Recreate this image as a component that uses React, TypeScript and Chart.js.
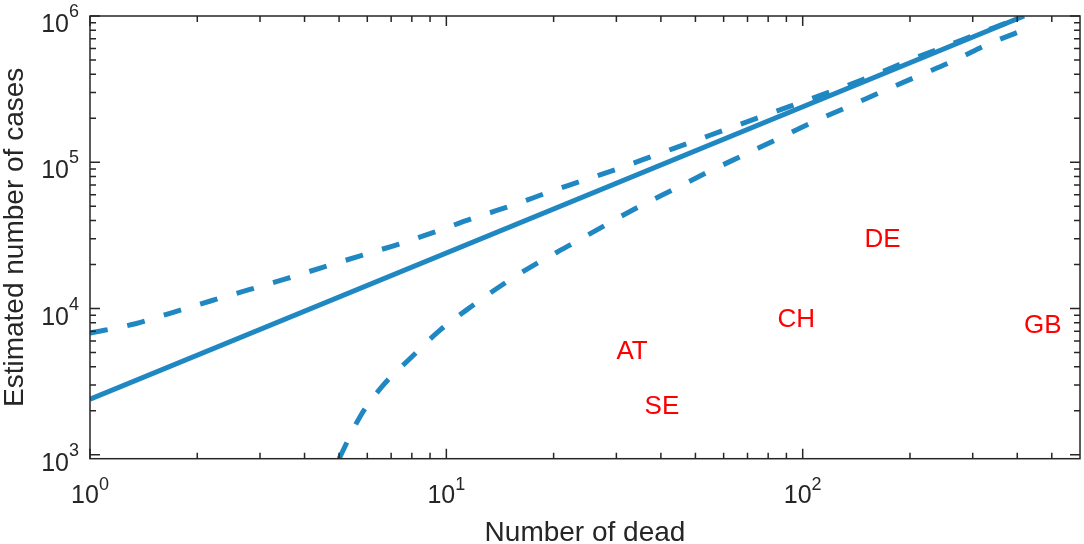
import React, { useEffect, useRef } from "react";
import { Chart, registerables } from "chart.js";

Chart.register(...registerables);

// fitted line (solid)
const deadFit = [1, 418];
const casesFit = [2400, 1000000];

// upper bound (dashed)
const deadUpper = [1, 1.35, 1.73, 2.19, 2.81, 3.56, 4.52, 5.79, 7.33, 9.3, 11.8, 14.9, 18.9, 24, 30.4, 38.5, 48.8, 61.8, 78.4, 99.4, 123, 158, 200, 254, 320, 400, 410];
const casesUpper = [6800, 7900, 9500, 11300, 13500, 16000, 19200, 23100, 27500, 33400, 41200, 49500, 61100, 74500, 90600, 111700, 137700, 169800, 209500, 258000, 311000, 393000, 500000, 625000, 780000, 965000, 1000000];

// lower bound (dashed)
const deadLower = [5.0, 5.72, 6.65, 7.91, 9.6, 11.8, 14.4, 17.9, 22.2, 27.9, 34.6, 43.3, 54.3, 68.1, 85.4, 107, 135, 170, 213, 268, 337, 425, 449];
const casesLower = [940, 1815, 2990, 4550, 7110, 10400, 14600, 20300, 27100, 37100, 49500, 65000, 85900, 111700, 145000, 188600, 241500, 310500, 393000, 500000, 654000, 820000, 877000];

// country labels
const countryCodes = ["AT", "SE", "CH", "DE", "GB"];
const countryDead = [30, 36, 85, 149, 418];
const countryCases = [5200, 2200, 8600, 30500, 7900];

// axes
const xMajorTicks = [1, 10, 100];
const xTickExponents = ["0", "1", "2"];
const xMinorTicks = [2, 3, 4, 5, 6, 7, 8, 9, 20, 30, 40, 50, 60, 70, 80, 90, 200, 300, 400, 500];
const yMajorTicks = [1000, 10000, 100000, 1000000];
const yTickExponents = ["3", "4", "5", "6"];
const yMinorTicks = [
  2000, 3000, 4000, 5000, 6000, 7000, 8000, 9000,
  20000, 30000, 40000, 50000, 60000, 70000, 80000, 90000,
  200000, 300000, 400000, 500000, 600000, 700000, 800000, 900000,
];
const xTitle = "Number of dead";
const yTitle = "Estimated number of cases";

const LINE_BLUE = "#1f87c2";
const AXIS_GREY = "#262626";
const FONT = "'Liberation Sans', Arial, sans-serif";

const toPoints = (xs: number[], ys: number[]) => xs.map((x, i) => ({ x, y: ys[i] }));

const axesPlugin = {
  id: "matlabAxes",
  afterDraw(chart: any) {
    const { ctx, chartArea: a, scales } = chart;
    const xs = scales.x;
    const ys = scales.y;
    ctx.save();

    // box
    ctx.strokeStyle = AXIS_GREY;
    ctx.lineWidth = 1.5;
    ctx.strokeRect(a.left, a.top, a.right - a.left, a.bottom - a.top);

    // inward ticks on all four sides
    ctx.beginPath();
    const xTick = (v: number, len: number) => {
      const p = xs.getPixelForValue(v);
      ctx.moveTo(p, a.bottom);
      ctx.lineTo(p, a.bottom - len);
      ctx.moveTo(p, a.top);
      ctx.lineTo(p, a.top + len);
    };
    const yTick = (v: number, len: number) => {
      const p = ys.getPixelForValue(v);
      ctx.moveTo(a.left, p);
      ctx.lineTo(a.left + len, p);
      ctx.moveTo(a.right, p);
      ctx.lineTo(a.right - len, p);
    };
    xMajorTicks.forEach((v) => xTick(v, 10));
    xMinorTicks.forEach((v) => xTick(v, 6));
    yMajorTicks.forEach((v) => yTick(v, 10));
    yMinorTicks.forEach((v) => yTick(v, 6));
    ctx.stroke();

    // tick labels 10^n
    ctx.fillStyle = AXIS_GREY;
    ctx.textBaseline = "alphabetic";
    ctx.textAlign = "left";
    const baseFont = `25px ${FONT}`;
    const expFont = `18px ${FONT}`;
    xMajorTicks.forEach((v, i) => {
      const p = xs.getPixelForValue(v);
      ctx.font = baseFont;
      const wBase = ctx.measureText("10").width;
      ctx.font = expFont;
      const wExp = ctx.measureText(xTickExponents[i]).width;
      const start = p - (wBase + wExp) / 2;
      ctx.font = baseFont;
      ctx.fillText("10", start, a.bottom + 44);
      ctx.font = expFont;
      ctx.fillText(xTickExponents[i], start + wBase, a.bottom + 31);
    });
    yMajorTicks.forEach((v, i) => {
      const p = ys.getPixelForValue(v);
      const right = a.left - 11;
      ctx.font = expFont;
      const wExp = ctx.measureText(yTickExponents[i]).width;
      ctx.fillText(yTickExponents[i], right - wExp, p + 1);
      ctx.font = baseFont;
      const wBase = ctx.measureText("10").width;
      ctx.fillText("10", right - wExp - wBase, p + 16);
    });

    // axis titles
    ctx.font = `28px ${FONT}`;
    ctx.textAlign = "center";
    ctx.fillText(xTitle, (a.left + a.right) / 2, a.bottom + 82);
    ctx.save();
    ctx.translate(23, (a.top + a.bottom) / 2);
    ctx.rotate(-Math.PI / 2);
    ctx.fillText(yTitle, 0, 0);
    ctx.restore();

    // country labels
    ctx.font = `26px ${FONT}`;
    ctx.fillStyle = "#ff0000";
    ctx.textAlign = "left";
    countryCodes.forEach((code, i) => {
      const px = xs.getPixelForValue(countryDead[i]);
      const py = ys.getPixelForValue(countryCases[i]);
      ctx.fillText(code, px, py + 26 * 0.36);
    });

    ctx.restore();
  },
};

const App = () => {
  const canvasRef = useRef<HTMLCanvasElement | null>(null);
  const chartRef = useRef<Chart | null>(null);

  useEffect(() => {
    document.body.style.margin = "0";
    if (!canvasRef.current) return;
    if (chartRef.current) chartRef.current.destroy();

    const lineStyle = {
      borderColor: LINE_BLUE,
      borderWidth: 5,
      pointRadius: 0,
      fill: false,
      cubicInterpolationMode: "monotone" as const,
    };

    chartRef.current = new Chart(canvasRef.current, {
      type: "line",
      data: {
        datasets: [
          { ...lineStyle, label: "fit", data: toPoints(deadFit, casesFit) },
          { ...lineStyle, label: "upper", data: toPoints(deadUpper, casesUpper), borderDash: [18, 20] },
          { ...lineStyle, label: "lower", data: toPoints(deadLower, casesLower), borderDash: [18, 20] },
        ],
      },
      options: {
        responsive: true,
        maintainAspectRatio: false,
        animation: false,
        layout: { padding: { left: 90, top: 16, right: 4, bottom: 85.3 } },
        scales: {
          x: { type: "logarithmic", min: 1, max: 600, display: false },
          y: { type: "logarithmic", min: 940, max: 1000000, display: false },
        },
        plugins: {
          legend: { display: false },
          tooltip: { enabled: false },
        },
      },
      plugins: [axesPlugin],
    });

    return () => {
      if (chartRef.current) {
        chartRef.current.destroy();
        chartRef.current = null;
      }
    };
  }, []);

  return (
    <div style={{ width: 1084, height: 544, position: "relative", background: "#fff" }}>
      <canvas ref={canvasRef} />
    </div>
  );
};

export default App;
